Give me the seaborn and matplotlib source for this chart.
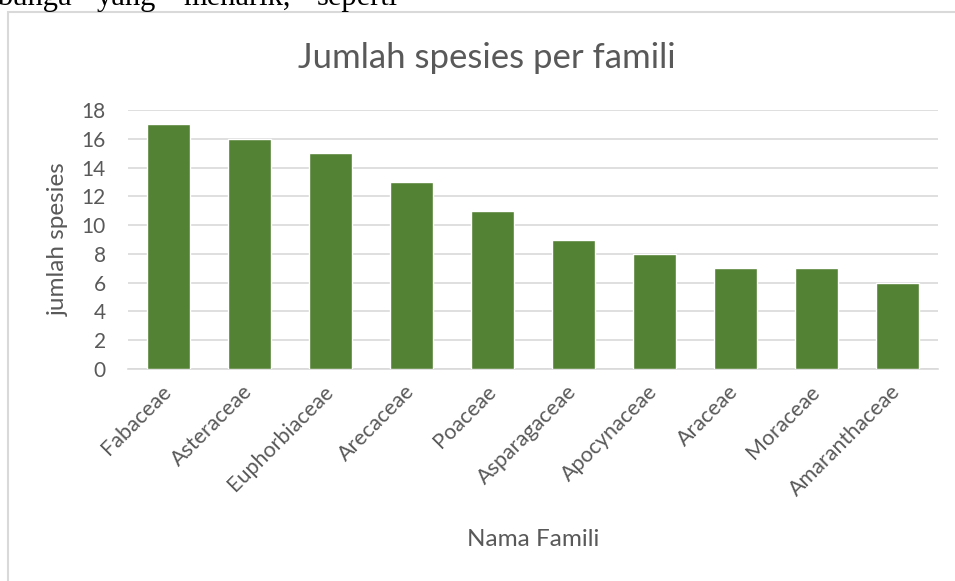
import matplotlib
matplotlib.use("Agg")
import matplotlib.pyplot as plt
import seaborn as sns
import pandas as pd
from matplotlib.patches import Rectangle

families = ["Fabaceae", "Asteraceae", "Euphorbiaceae", "Arecaceae", "Poaceae",
            "Asparagaceae", "Apocynaceae", "Araceae", "Moraceae", "Amaranthaceae"]
counts = [17, 16, 15, 13, 11, 9, 8, 7, 7, 6]
yticks = [0, 2, 4, 6, 8, 10, 12, 14, 16, 18]
doc_words = ["bunga", "yang", "menarik,", "seperti"]

df = pd.DataFrame({"famili": families, "jumlah": counts})

sns.set_theme(style="white")
plt.rcParams["font.family"] = ["Lato", "DejaVu Sans"]

W, H = 955, 581
fig = plt.figure(figsize=(W / 100, H / 100), dpi=100)
ax = fig.add_axes([128 / W, 1 - 369 / H, (938 - 128) / W, (369 - 110) / H])

grey = "#595959"
sns.barplot(data=df, x="famili", y="jumlah", color="#548235", width=0.53,
            saturation=1, ax=ax, zorder=3)

ax.set_ylim(0, 18)
ax.set_yticks(yticks)
ax.set_yticklabels([str(v) for v in yticks], fontsize=15, color=grey)
ax.yaxis.grid(True, color="#d9d9d9", linewidth=1.2, zorder=0)
for s in ["top", "right", "left"]:
    ax.spines[s].set_visible(False)
ax.spines["bottom"].set_color("#d9d9d9")
ax.spines["bottom"].set_linewidth(1.2)
ax.tick_params(axis="both", length=0)
ax.tick_params(axis="y", pad=16)
ax.set_xticks(range(len(families)))
ax.set_xticklabels(families, rotation=45, ha="right", va="center",
                   rotation_mode="anchor", fontsize=15.5, color=grey)
ax.tick_params(axis="x", pad=14)

ax.set_xlabel("Nama Famili", fontsize=17.5, color=grey)
ax.xaxis.set_label_coords((533 - 128) / (938 - 128), -(540 - 369) / (369 - 110))
ax.xaxis.label.set_va("center")
ax.set_ylabel("jumlah spesies", fontsize=17.5, color=grey)
ax.yaxis.set_label_coords(-(128 - 58) / (938 - 128), 0.5)
ax.yaxis.label.set_va("center")

fig.text(487 / W, 1 - 58 / H, "Jumlah spesies per famili", fontsize=25,
         color=grey, ha="center", va="center")

# chart frame
fig.patches.append(Rectangle((7.5 / W, -0.1), (W + 20) / W, 1.1 - 11.5 / H,
                             transform=fig.transFigure, fill=False,
                             edgecolor="#d9d9d9", linewidth=1.5))

# document text cut off at top
for word, x in zip(doc_words, [-3, 97, 183, 317]):
    fig.text(x / W, 1 - 5 / H, word, fontsize=22,
             family=["Liberation Serif", "DejaVu Serif"],
             color="black", ha="left", va="baseline")

fig.savefig("out.png", dpi=100)
